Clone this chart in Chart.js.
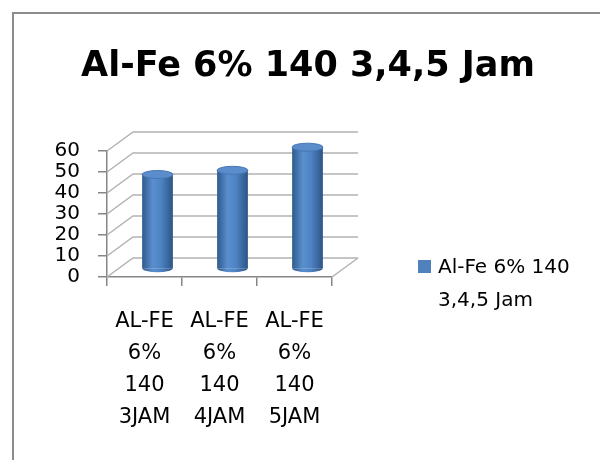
<!DOCTYPE html>
<html>
<head>
<meta charset="utf-8">
<script src="https://cdn.jsdelivr.net/npm/chart.js@4.4.1/dist/chart.umd.min.js"></script>
<style>
    body { margin: 0; background: #fff; }
    #wrap { position: relative; width: 600px; height: 460px; overflow: hidden; background: #fff; }
    #frame { position: absolute; left: 12px; top: 12px; width: 700px; height: 600px; border: 2px solid #8c8c8c; pointer-events: none; }
    #legend { position: absolute; left: 418px; top: 250px; width: 160px; font: 20px "DejaVu Sans", sans-serif; line-height: 33px; color: #000; }
    #legend .box { position: absolute; left: 0; top: 10px; width: 13px; height: 13px; }
    #legend .txt { margin-left: 20px; width: 145px; }
</style>
</head>
<body>
<div id="wrap">
    <canvas id="chart" width="600" height="460"></canvas>
    <div id="legend"></div>
    <div id="frame"></div>
</div>
<script>
const chartTitle = 'Al-Fe 6% 140 3,4,5 Jam';
const seriesName = 'Al-Fe 6% 140 3,4,5 Jam';
const categories = [
    ['AL-FE', '6%', '140', '3JAM'],
    ['AL-FE', '6%', '140', '4JAM'],
    ['AL-FE', '6%', '140', '5JAM']
];
const values = [45, 47, 58];
const yMin = 0;
const yMax = 60;
const yStep = 10;

const barColor = '#4F81BD';
const font = '"DejaVu Sans", sans-serif';

// depth of the fake 3d box, and where the cylinders sit in it
const DX = 26, DY = -19;
const BX = 13, BY = -8;

// legend as html so the label can wrap like the original
const legend = document.getElementById('legend');
legend.innerHTML = '<div class="box" style="background:' + barColor + '"></div><div class="txt">' + seriesName + '</div>';

function cylinderFill(context) {
    const chart = context.chart;
    const area = chart.chartArea;
    if (!area) return barColor;
    const xs = chart.scales.x;
    const cx = xs.getPixelForValue(context.dataIndex);
    const w = (xs.width / categories.length) * 0.41;
    const g = chart.ctx.createLinearGradient(cx - w / 2, 0, cx + w / 2, 0);
    g.addColorStop(0, '#2f5a8c');
    g.addColorStop(0.35, '#5a8fcf');
    g.addColorStop(0.6, '#4f84c4');
    g.addColorStop(1, '#2c5585');
    return g;
}

const box3d = {
    id: 'box3d',
    beforeDatasetsDraw(chart) {
        const ctx = chart.ctx;
        const ys = chart.scales.y;
        const a = chart.chartArea;
        ctx.save();
        ctx.strokeStyle = '#b3b3b3';
        ctx.lineWidth = 1.5;
        for (let v = yMin; v <= yMax; v += yStep) {
            const fy = ys.getPixelForValue(v);
            ctx.beginPath();
            ctx.moveTo(a.left, fy);
            ctx.lineTo(a.left + DX, fy + DY);
            ctx.lineTo(a.right + DX, fy + DY);
            ctx.stroke();
        }
        // floor right edge
        const y0 = ys.getPixelForValue(yMin);
        ctx.beginPath();
        ctx.moveTo(a.right, y0);
        ctx.lineTo(a.right + DX, y0 + DY);
        ctx.stroke();
        ctx.restore();

        ctx.save();
        ctx.translate(BX, BY);
    },
    afterDatasetsDraw(chart) {
        const ctx = chart.ctx;
        const meta = chart.getDatasetMeta(0);
        meta.data.forEach((bar, i) => {
            const p = bar.getProps(['x', 'y', 'base', 'width'], true);
            const rx = p.width / 2;
            const ry = 4;
            // bottom cap
            ctx.beginPath();
            ctx.ellipse(p.x, p.base, rx, ry, 0, 0, Math.PI);
            ctx.fillStyle = cylinderFill({ chart: chart, dataIndex: i });
            ctx.fill();
            // top cap
            ctx.beginPath();
            ctx.ellipse(p.x, p.y, rx, ry, 0, 0, Math.PI * 2);
            ctx.fillStyle = '#5b8ccb';
            ctx.fill();
            ctx.strokeStyle = '#4677b3';
            ctx.lineWidth = 1;
            ctx.stroke();
        });
        ctx.restore();
    }
};

new Chart(document.getElementById('chart'), {
    type: 'bar',
    data: {
        labels: categories,
        datasets: [{
            label: seriesName,
            data: values,
            backgroundColor: cylinderFill,
            borderWidth: 0,
            categoryPercentage: 1,
            barPercentage: 0.41
        }]
    },
    options: {
        responsive: false,
        animation: false,
        layout: {
            autoPadding: false,
            padding: { top: 0, left: 16, right: 0, bottom: 0 }
        },
        plugins: {
            legend: { display: false },
            tooltip: { enabled: false },
            title: {
                display: true,
                text: chartTitle,
                color: '#000',
                font: { family: font, size: 35, weight: 'bold', lineHeight: 1.2 },
                padding: { top: 46, bottom: 63 }
            }
        },
        scales: {
            x: {
                afterFit(s) { s.height = 183; },
                grid: { display: true, offset: true, drawOnChartArea: false, drawTicks: true, tickLength: 9, color: '#868686', lineWidth: 1.5 },
                border: { display: true, color: '#868686', width: 1.5 },
                ticks: {
                    color: '#000',
                    padding: 20,
                    maxRotation: 0,
                    autoSkip: false,
                    font: { family: font, size: 21, lineHeight: 1.52 }
                }
            },
            y: {
                min: yMin,
                max: yMax,
                afterFit(s) { s.width = 91; },
                grid: { display: true, drawOnChartArea: false, drawTicks: true, tickLength: 9, color: '#868686', lineWidth: 1.5 },
                border: { display: true, color: '#868686', width: 1.5 },
                ticks: {
                    stepSize: yStep,
                    autoSkip: false,
                    color: '#000',
                    padding: 18,
                    font: { family: font, size: 20, lineHeight: 1 }
                }
            },
            // empty axis that keeps the right side free for the legend
            space: {
                type: 'linear',
                position: 'right',
                display: true,
                afterFit(s) { s.width = 268; },
                grid: { display: false },
                border: { display: false },
                ticks: { display: false }
            }
        }
    },
    plugins: [box3d]
});
</script>
</body>
</html>
